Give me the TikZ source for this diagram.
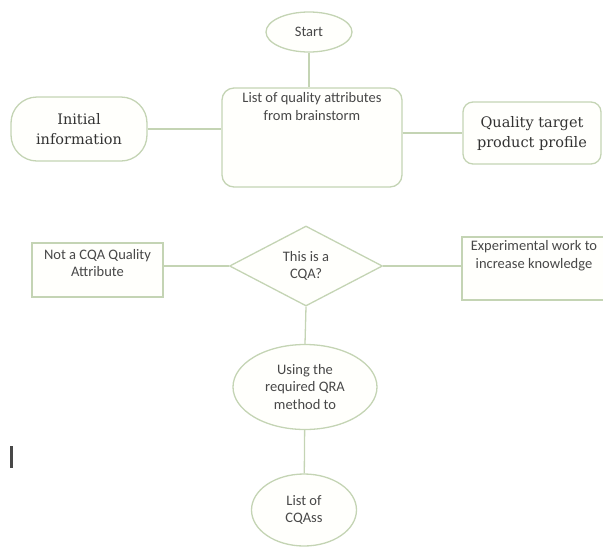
\documentclass[tikz,border=0pt]{standalone}
\usepackage{fontspec}
\newfontfamily\carlito{Carlito}
\newfontfamily\dvserif{DejaVu Serif}
\usetikzlibrary{shapes.geometric,positioning}
\definecolor{sage}{RGB}{196,212,180}
\definecolor{inktext}{RGB}{72,72,72}
\definecolor{softfill}{RGB}{255,255,252}

\begin{document}
\begin{tikzpicture}[x=1pt,y=-1pt,
  flowbox/.style={draw=sage,line width=1.3pt,fill=softfill,text=inktext,
    font=\carlito\fontsize{14.5}{17.5}\selectfont,align=center,inner sep=2pt},
  serifbox/.style={flowbox,text=black!80,font=\dvserif\fontsize{14.5}{20}\selectfont},
  flowline/.style={draw=sage,line width=1.3pt}]
\useasboundingbox (0,0) rectangle (603,550);
% top row
\node[flowbox,ellipse,minimum width=86pt,minimum height=40pt](start)
  at(309,32){Start};
\node[flowbox,rounded corners=12pt,minimum width=180pt,minimum height=99pt,
      text depth=62pt](brain)
  at(312,137.5){List of quality attributes\\from brainstorm};
\node[serifbox,rounded corners=26pt,minimum width=136pt,minimum height=64pt]
  (init) at(79,129){Initial\\information};
\node[serifbox,rounded corners=10pt,minimum width=138pt,minimum height=62pt]
  (qtpp) at(532,133){Quality target\\product profile};
% decision row
\node[flowbox,diamond,aspect=1.9,inner sep=0pt,minimum width=153pt,
      minimum height=80pt](cqa) at(306,266){This is a\\CQA?};
\node[flowbox,minimum width=131pt,minimum height=54pt,text depth=14pt]
  (notcqa) at(97.5,270){Not a CQA Quality\\Attribute};
\node[flowbox,minimum width=144pt,minimum height=63pt,text depth=28pt]
  (exp) at(534,268.5){Experimental work to\\increase knowledge};
% bottom column
\node[flowbox,ellipse,minimum width=144pt,minimum height=85pt](qra)
  at(305,387){Using the\\required QRA\\method to};
\node[flowbox,ellipse,minimum width=105pt,minimum height=72pt](cqas)
  at(304,510){List of\\CQAss};
\fill[inktext](10,446) rectangle (13,468);
% connectors
\draw[flowline](start)--(start|-brain.north);
\draw[flowline](init.east)--(init.east-|brain.west);
\draw[flowline](brain.east|-qtpp.west)--(qtpp.west);
\draw[flowline](cqa.west)--(cqa.west-|notcqa.east);
\draw[flowline](cqa.east)--(cqa.east-|exp.west);
\draw[flowline](cqa.south)--(qra.north);
\draw[flowline](qra)--(cqas);
\end{tikzpicture}
\end{document}
